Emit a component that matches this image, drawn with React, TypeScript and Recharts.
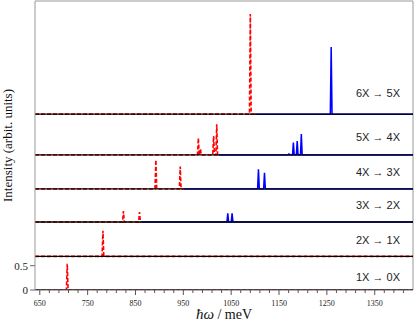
import React from 'react';
import { LineChart, Line, XAxis, YAxis, ReferenceLine } from 'recharts';

// panels, top to bottom
const panelLabels = ['6X → 5X', '5X → 4X', '4X → 3X', '3X → 2X', '2X → 1X', '1X → 0X'];
const panelBase = [3.62, 2.78, 2.08, 1.4, 0.693, 0];

// dashed red spectra: peak centres (meV) and heights
const redCenters = [
  [1090],
  [981.4, 985.8, 1013.3, 1019.8],
  [892.6, 943.5],
  [824.8, 858.4],
  [782],
  [707.4],
];
const redHeights = [
  [2.06],
  [0.35, 0.13, 0.39, 0.63],
  [0.6, 0.46],
  [0.226, 0.206],
  [0.527],
  [0.54],
];
const redEnd = [1100, 1024, 951, 862, 1430, 1430];

// solid blue spectra
const blueCenters = [
  [1259],
  [1170.8, 1180, 1188, 1196.6],
  [1107, 1119.6],
  [1042.9, 1051.9],
  [],
  [],
];
const blueHeights = [
  [1.385],
  [0.02, 0.255, 0.286, 0.43],
  [0.405, 0.335],
  [0.18, 0.18],
  [],
  [],
];

const xMin = 640;
const xMax = 1430;
const yMax = 5.95;
const xLabelTicks = [650, 750, 850, 950, 1050, 1150, 1250, 1350];
const yTicks = [0, 0.5];

const labelLift = [16.7, 13.7, 13, 13, 12.3, 9.5];
const HW = 1.8;

const spectrum = (centers: number[], heights: number[], base: number, from: number, to: number) => {
  const pts = [{ x: from, y: base }];
  centers.forEach((c, i) => {
    pts.push({ x: c - HW, y: base }, { x: c, y: base + heights[i] }, { x: c + HW, y: base });
  });
  pts.push({ x: to, y: base });
  return pts.sort((a, b) => a.x - b.x);
};

const xTicks: number[] = [];
for (let v = 650; v < xMax; v += 20) xTicks.push(v);

const XTick = (props: any) => {
  const { x, y, payload } = props;
  const major = xLabelTicks.includes(payload.value);
  return (
    <g>
      <line x1={x} y1={y} x2={x} y2={y + (major ? 5 : 3)} stroke="#555" strokeWidth={1} />
      {major && (
        <text x={x} y={y + 16} textAnchor="middle" fontSize={8} fontFamily="Liberation Serif" fill="#222">
          {payload.value}
        </text>
      )}
    </g>
  );
};

export default function App() {
  return (
    <div style={{ position: 'absolute', left: 0, top: 0, background: '#fff' }}>
      <LineChart width={415} height={323} margin={{ top: 1, right: 2, bottom: 0, left: 0 }}>
        <XAxis
          type="number"
          dataKey="x"
          domain={[xMin, xMax]}
          ticks={xTicks}
          interval={0}
          allowDataOverflow
          height={33}
          tickSize={0}
          tickMargin={0}
          tickLine={false}
          tick={<XTick />}
          axisLine={{ stroke: '#666' }}
          label={{
            content: (p: any) => {
              const vb = p.viewBox;
              return (
                <text x={vb.x + vb.width / 2} y={vb.y + 29} textAnchor="middle" fontSize={14} fontFamily="Liberation Serif" fill="#111">
                  <tspan fontStyle="italic" fontSize={15}>ħω</tspan>
                  <tspan> / meV</tspan>
                </text>
              );
            },
          }}
        />
        <YAxis
          type="number"
          domain={[0, yMax]}
          ticks={yTicks}
          allowDataOverflow
          width={35}
          tickSize={5}
          tickMargin={2}
          axisLine={{ stroke: '#999' }}
          tickLine={{ stroke: '#666' }}
          tick={{ fontSize: 11, fontFamily: 'Liberation Serif', fill: '#222' }}
          tickFormatter={(v: number) => String(v)}
          label={{
            content: (p: any) => {
              const vb = p.viewBox;
              const cy = vb.y + vb.height / 2;
              return (
                <text x={12} y={cy} transform={`rotate(-90 12 ${cy})`} textAnchor="middle" fontSize={13} fontFamily="Liberation Serif" fill="#111">
                  Intensity (arbit. units)
                </text>
              );
            },
          }}
        />
        <ReferenceLine y={yMax} stroke="#999" strokeWidth={1} />
        <ReferenceLine x={xMax} stroke="#999" strokeWidth={1} />
        {panelBase.map((b, i) => (
          <ReferenceLine
            key={'lab' + i}
            y={b}
            stroke="none"
            label={{
              content: (p: any) => {
                const vb = p.viewBox;
                return (
                  <text x={vb.x + vb.width - 13} y={vb.y - labelLift[i]} textAnchor="end" fontSize={11} fontFamily="Liberation Sans" fill="#222">
                    {panelLabels[i]}
                  </text>
                );
              },
            }}
          />
        ))}
        {panelBase.map((b, i) =>
          blueCenters[i].length ? (
            <Line
              key={'blue' + i}
              data={spectrum(blueCenters[i], blueHeights[i], b, redEnd[i], xMax)}
              dataKey="y"
              type="linear"
              stroke="#0000ff"
              strokeWidth={1.5}
              dot={false}
              activeDot={false}
              isAnimationActive={false}
            />
          ) : null
        )}
        {panelBase.map((b, i) => (
          <Line
            key={'red' + i}
            data={spectrum(redCenters[i], redHeights[i], b, xMin, redEnd[i])}
            dataKey="y"
            type="linear"
            stroke="#ff0000"
            strokeWidth={1.6}
            strokeDasharray="4 2"
            dot={false}
            activeDot={false}
            isAnimationActive={false}
          />
        ))}
        {panelBase.map((b, i) => (
          <Line
            key={'base' + i}
            data={[{ x: xMin, y: b }, { x: xMax, y: b }]}
            dataKey="y"
            type="linear"
            stroke="#000"
            strokeWidth={1.3}
            dot={false}
            activeDot={false}
            isAnimationActive={false}
          />
        ))}
      </LineChart>
    </div>
  );
}
